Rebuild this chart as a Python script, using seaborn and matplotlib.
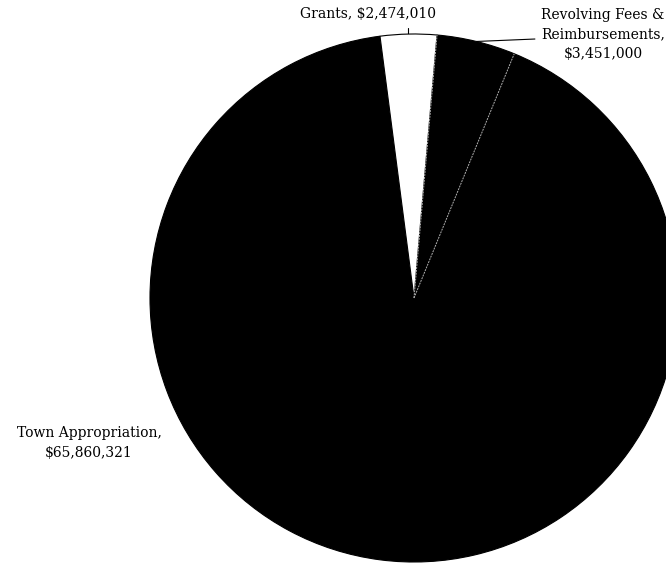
import numpy as np
import seaborn as sns
import matplotlib.pyplot as plt

sources = ["Grants", "Revolving Fees &\nReimbursements", "Town Appropriation"]
amounts = [2474010, 3451000, 65860321]
colors = ["white", "black", "black"]

sns.set_style("white")
plt.rcParams['font.family'] = ['DejaVu Serif']

fig = plt.figure(figsize=(6.66, 5.64), dpi=100)
ax = fig.add_axes([0, 0, 1, 1])

wedges, _ = ax.pie(amounts, colors=colors, startangle=97.4, counterclock=False,
                   radius=1, wedgeprops=dict(linewidth=0.8, edgecolor="black"))
wedges[0].set_zorder(3)

# light dotted dividers between the black slices
for t in (wedges[1].theta1, wedges[1].theta2):
    a = np.deg2rad(t)
    ax.plot([0, np.cos(a)], [0, np.sin(a)], color="#b0b0b0", lw=0.7,
            ls=(0, (2, 1)), zorder=4)

# axes limits so that pie sits where it does in the reference
ax.set_aspect("auto")
ax.set_xlim(-414 / 264, (666 - 414) / 264)
ax.set_ylim(-(564 - 298) / 264, 298 / 264)
ax.axis("off")

def lab(name, val):
    return "%s,\n$%s" % (name, format(val, ","))

fs = 10
# Grants
w = wedges[0]
mid = np.deg2rad((w.theta1 + w.theta2) / 2)
x0, y0 = np.cos(mid), np.sin(mid)
ax.plot([x0, x0], [y0, y0 + 0.024], color="black", lw=0.8)
ax.text(-0.174, 1.076, "%s, $%s" % (sources[0], format(amounts[0], ",")),
        ha="center", va="center", fontsize=fs, color="black")

# Revolving
w = wedges[1]
mid = np.deg2rad((w.theta1 + w.theta2) / 2)
x0, y0 = np.cos(mid), np.sin(mid)
ax.plot([x0, 0.458], [y0, 0.981], color="black", lw=0.8)
ax.text(0.716, 1.0, lab(sources[1], amounts[1]), ha="center", va="center",
        fontsize=fs, linespacing=1.5, color="black")

# Town
ax.text(-1.231, -0.549, lab(sources[2], amounts[2]), ha="center", va="center",
        fontsize=fs, linespacing=1.5, color="black")

fig.savefig("out.png", dpi=100)
